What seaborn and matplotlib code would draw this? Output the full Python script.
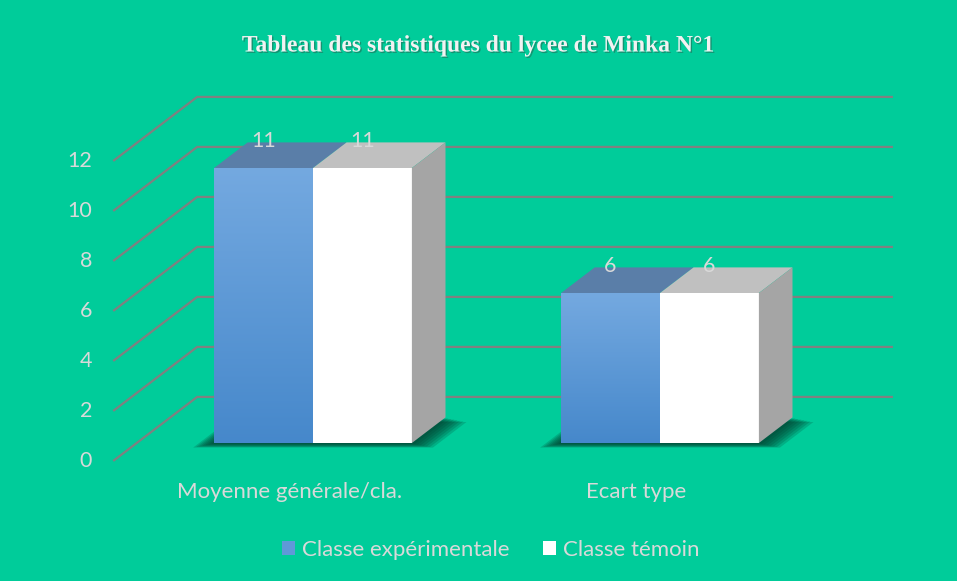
import numpy as np
import matplotlib.pyplot as plt
import matplotlib.patheffects as pe
import pandas as pd
import seaborn as sns
from matplotlib.patches import Polygon, Patch
from matplotlib.colors import LinearSegmentedColormap

# chart data
categories = ["Moyenne générale/cla.", "Ecart type"]
series = ["Classe expérimentale", "Classe témoin"]
experimentale = [11, 6]
temoin = [11, 6]
yticks = [0, 2, 4, 6, 8, 10, 12]
title = "Tableau des statistiques du lycee de Minka N°1"

bg = "#00CC9A"
txt = "#D9D9D9"
grid_c = "#808080"
blue = "#5F99D8"

df = pd.DataFrame({
    "categorie": categories * 2,
    "classe": [series[0]] * len(categories) + [series[1]] * len(categories),
    "valeur": experimentale + temoin,
})

sns.set_theme(style="white")
plt.rcParams['font.family'] = ['Lato', 'DejaVu Sans']

W, H = 957, 581
fig = plt.figure(figsize=(W / 100, H / 100), dpi=100, facecolor=bg)
ax = fig.add_axes([0, 0, 1, 1])
ax.set_facecolor(bg)

sns.barplot(data=df, x="categorie", y="valeur", hue="classe",
            palette=[blue, "white"], width=0.57, saturation=1,
            ax=ax, legend=False, zorder=3, linewidth=0)

# pixel scale of the data plane (front of the bars)
PX, PY = 347, 25
x0_px, y0_px = 313, 443


def set_lims():
    ax.set_xlim(-x0_px / PX, (W - x0_px) / PX)
    ax.set_ylim(-(H - y0_px) / PY, y0_px / PY)


set_lims()
ax.axis("off")

# oblique depth: full wall depth, bars sit at d0 and are bd deep
DX, DY = 84 / PX, 64 / PY
d0, bd = 0.28, 0.40


def at(x, y, depth):
    return (x + (depth - d0) * DX, y + (depth - d0) * DY)


# back wall grid + left diagonals
xl, xr = -0.508, 1.497
for v in yticks:
    p0 = at(xl, v, 0)
    p1 = at(xl, v, 1)
    p2 = at(xr, v, 1)
    ax.plot([p0[0], p1[0], p2[0]], [p0[1], p1[1], p2[1]],
            color=grid_c, lw=1.6, zorder=1, solid_capstyle="butt")
    ax.text(p0[0] - 21 / PX, p0[1], str(v), ha="right", va="center",
            color=txt, fontsize=15.5)

blue_c, white_c = ax.containers[0], ax.containers[1]
bdx, bdy = bd * DX, bd * DY

# soft shadows under each bar group
for pb, pw in zip(blue_c, white_c):
    xa, xb = pb.get_x(), pw.get_x() + pw.get_width()
    for k in range(7):
        ex = (3 + k * 3) / PX
        ey = (1 + k * 0.6) / PY
        poly = [(xa - ex, -ey), (xb + ex, -ey),
                (xb + bdx + ex, bdy - ey), (xa + bdx - ex, bdy - ey)]
        ax.add_patch(Polygon(poly, closed=True, color="#003D2C",
                             alpha=0.2, lw=0, zorder=2))

# gradient on the blue fronts
cmap = LinearSegmentedColormap.from_list("bl", ["#4688CB", "#74A9E0"])
grad = np.linspace(0, 1, 256).reshape(-1, 1)
for p in blue_c:
    x, w, h = p.get_x(), p.get_width(), p.get_height()
    im = ax.imshow(grad, extent=[x, x + w, 0, h], origin="lower",
                   aspect="auto", cmap=cmap, zorder=3.1)
    im.set_clip_path(p)

# top and side faces
for cont, top_col in [(blue_c, "#5A7EA8"), (white_c, "#C0C0C0")]:
    for p in cont:
        x, w, h = p.get_x(), p.get_width(), p.get_height()
        top = [(x, h), (x + w, h), (x + w + bdx, h + bdy), (x + bdx, h + bdy)]
        ax.add_patch(Polygon(top, closed=True, color=top_col, lw=0, zorder=3.2))
for p in white_c:
    x1, h = p.get_x() + p.get_width(), p.get_height()
    side = [(x1, 0), (x1, h), (x1 + bdx, h + bdy), (x1 + bdx, bdy)]
    ax.add_patch(Polygon(side, closed=True, color="#A5A5A5", lw=0, zorder=3.2))

set_lims()

for cont in ax.containers:
    ax.bar_label(cont, labels=[f"{v:g}" for v in cont.datavalues],
                 padding=12, color=txt, fontsize=15.5, zorder=5)

# category labels on the front floor edge
for i, c in enumerate(categories):
    ax.text(i - d0 * DX, -49 / PY, c, ha="center", va="center",
            color=txt, fontsize=16)

fig.text(0.5, 1 - 46 / H, title, ha="center", va="center",
         fontsize=17, fontweight="bold", color="#F2F2F2",
         family=["Liberation Serif", "DejaVu Serif"],
         path_effects=[pe.SimplePatchShadow(offset=(1.0, -1.0),
                                            shadow_rgbFace="#2A5A4A", alpha=0.5),
                       pe.Normal()])

handles = [Patch(facecolor=blue, edgecolor="none"),
           Patch(facecolor="white", edgecolor="none")]
fig.legend(handles, series, loc="center", bbox_to_anchor=(0.5 + 12 / W, 1 - 550 / H),
           ncol=2, frameon=False, handlelength=0.6, handleheight=0.6,
           handletextpad=0.3, columnspacing=1.5, labelcolor=txt, fontsize=16)

fig.savefig("out.png", dpi=100, facecolor=bg)
